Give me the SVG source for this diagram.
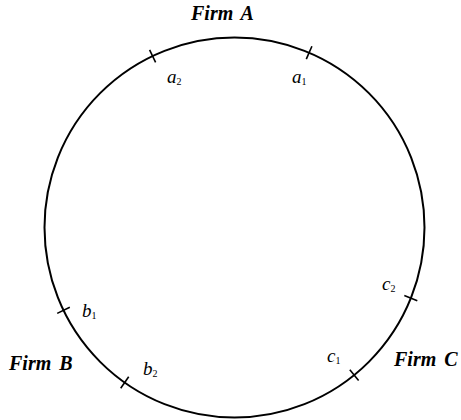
<svg xmlns="http://www.w3.org/2000/svg" width="461" height="420" viewBox="0 0 461 420">
<style>
.firm{font-family:"Liberation Serif",serif;font-style:italic;font-weight:bold;font-size:20px;fill:#000;word-spacing:3px}
.lbl{font-family:"Liberation Serif",serif;font-style:italic;font-size:19px;fill:#000}
.sub{font-size:10px;font-style:normal}
.tick{stroke:#000;stroke-width:1.6;fill:none}
</style>
<rect width="461" height="420" fill="#fff"/>
<g id="circle"><circle cx="234.5" cy="227.5" r="190" fill="none" stroke="#000" stroke-width="2"/></g>
<g id="ticks">
<line class="tick" x1="149.6" y1="49.8" x2="155.6" y2="62.4"/>
<line class="tick" x1="311.9" y1="46.3" x2="306.3" y2="59.1"/>
<line class="tick" x1="57.2" y1="313.4" x2="69.8" y2="307.2"/>
<line class="tick" x1="120.7" y1="388.2" x2="128.7" y2="376.8"/>
<line class="tick" x1="417.3" y1="300.8" x2="404.3" y2="295.6"/>
<line class="tick" x1="358.6" y1="380.6" x2="349.8" y2="369.8"/>
</g>
<g id="firmA"><text class="firm" x="191" y="20">Firm A</text></g>
<g id="firmB"><text class="firm" x="9" y="370">Firm B</text></g>
<g id="firmC"><text class="firm" x="394" y="366">Firm C</text></g>
<g id="labels">
<text class="lbl" x="167" y="83">a<tspan class="sub" dy="2">2</tspan></text>
<text class="lbl" x="292" y="83">a<tspan class="sub" dy="2">1</tspan></text>
<text class="lbl" x="82" y="317">b<tspan class="sub" dy="2">1</tspan></text>
<text class="lbl" x="143" y="375">b<tspan class="sub" dy="2">2</tspan></text>
<text class="lbl" x="382" y="290">c<tspan class="sub" dy="2">2</tspan></text>
<text class="lbl" x="327" y="362">c<tspan class="sub" dy="2">1</tspan></text>
</g>
</svg>
